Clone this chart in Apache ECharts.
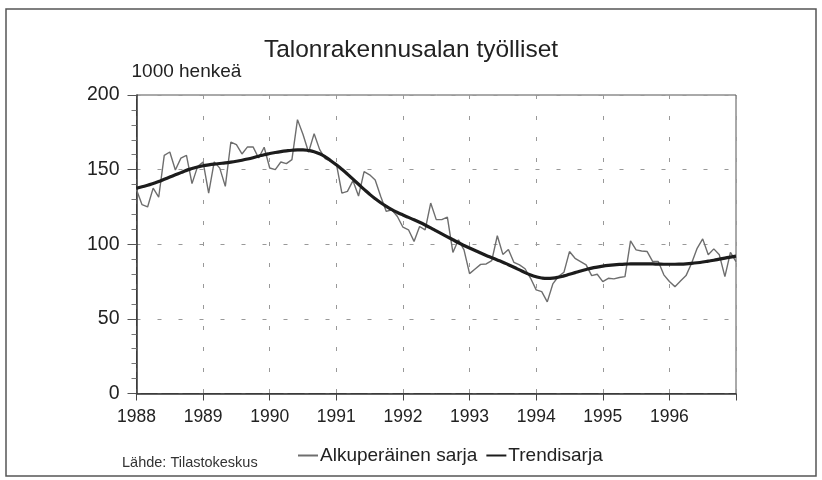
<!DOCTYPE html>
<html>
<head>
<meta charset="utf-8">
<script src="https://cdn.jsdelivr.net/npm/echarts@6/dist/echarts.min.js"></script>
<style>
  html, body { margin: 0; padding: 0; background: #fff; }
  #chart { width: 822px; height: 480px; }
</style>
</head>
<body>
<div id="chart"></div>
<script>
// kuukausisarja tammikuu 1988 - tammikuu 1997, 1000 henkeä
const startYear = 1988
const yearTicks = [1988, 1989, 1990, 1991, 1992, 1993, 1994, 1995, 1996]

const original = [
  136.5, 126.5, 125.0, 137.6, 131.5, 159.6, 161.8, 149.8, 157.7, 159.5, 140.6, 152.0,
  155.0, 134.3, 155.2, 151.0, 138.8, 168.5, 166.7, 160.5, 165.2, 165.2, 157.8, 165.0,
  151.1, 150.0, 155.1, 154.0, 156.7, 183.5, 173.5, 161.6, 174.1, 163.4, 157.4, 155.5,
  154.0, 134.3, 135.4, 142.6, 132.3, 148.7, 146.5, 143.0, 132.0, 122.0, 123.1, 118.6,
  111.4, 109.7, 101.9, 111.9, 109.7, 127.6, 116.5, 116.5, 118.2, 94.5, 103.0, 96.2,
  80.3, 83.4, 86.5, 86.8, 89.0, 105.7, 93.2, 96.5, 87.8, 86.2, 83.6, 77.2,
  69.4, 68.3, 61.4, 73.4, 78.4, 81.2, 95.1, 90.6, 88.4, 86.2, 79.0, 79.9,
  75.0, 77.2, 76.8, 77.7, 78.3, 102.2, 96.2, 95.5, 95.1, 88.4, 88.4, 79.5,
  75.0, 71.6, 75.4, 79.0, 87.3, 97.3, 103.6, 92.9, 96.9, 92.9, 78.3, 94.6,
  88.4
]

const trend = [
  137.5, 138.5, 139.5, 140.7, 142.0, 143.5, 145.0, 146.5, 148.0, 149.5, 150.7, 151.8,
  152.6, 153.2, 153.7, 154.1, 154.5, 155.0, 155.6, 156.3, 157.1, 158.0, 159.0, 160.0,
  160.8, 161.5, 162.1, 162.6, 163.0, 163.2, 163.2, 162.8, 162.0, 160.6, 158.6, 156.0,
  153.2, 150.2, 147.0, 143.6, 140.2, 136.8, 133.5, 130.5, 127.8, 125.4, 123.2, 121.3,
  119.6, 118.0, 116.4, 114.7, 112.9, 111.0, 109.0, 107.0, 105.0, 103.0, 101.0, 99.2,
  97.5, 95.8, 94.1, 92.5, 91.0, 89.5, 88.0, 86.3, 84.6, 82.8, 81.0, 79.4,
  78.2, 77.4, 77.1, 77.3, 77.9, 78.8, 79.9, 81.0, 82.1, 83.1, 84.0, 84.7,
  85.3, 85.8, 86.2, 86.5, 86.7, 86.8, 86.9, 86.9, 86.9, 86.8, 86.7, 86.6,
  86.6, 86.6, 86.7, 86.9, 87.2, 87.6, 88.1, 88.7, 89.3, 90.0, 90.7, 91.4,
  92.0
]

const toPairs = (arr) => arr.map((v, i) => [startYear + i / 12, v])

const font = "'Liberation Sans', Arial, Helvetica, sans-serif"
const chart = echarts.init(document.getElementById('chart'))

chart.setOption({
  animation: false,
  backgroundColor: '#fff',
  textStyle: { fontFamily: font, color: '#222' },
  title: [
    {
      text: 'Talonrakennusalan työlliset',
      left: 'center',
      top: 33,
      textStyle: { fontFamily: font, fontSize: 24.5, fontWeight: 'normal', color: '#222' },
    },
    {
      text: 'Lähde: Tilastokeskus',
      left: 117,
      top: 450,
      textStyle: { fontFamily: font, fontSize: 14.5, fontWeight: 'normal', color: '#333' },
    },
  ],
  legend: {
    left: 292,
    top: 441,
    itemWidth: 20,
    itemHeight: 14,
    itemGap: 8,
    itemStyle: { opacity: 0 },
    textStyle: { fontFamily: font, fontSize: 19, color: '#222', padding: [0, 0, 0, -3] },
    data: ['Alkuperäinen sarja', 'Trendisarja'],
  },
  grid: {
    left: 136.5,
    right: 86,
    top: 95,
    bottom: 86.5,
    show: true,
    borderColor: '#555',
    borderWidth: 1,
  },
  xAxis: {
    type: 'value',
    min: 1988,
    max: 1997,
    interval: 1,
    axisLine: { lineStyle: { color: '#333', width: 1.5 } },
    axisTick: { length: 7, lineStyle: { color: '#444' } },
    axisLabel: {
      fontFamily: font,
      fontSize: 17.5,
      color: '#222',
      margin: 15,
      formatter: (v) => (yearTicks.indexOf(v) >= 0 ? String(v) : ''),
    },
    splitLine: { show: true, lineStyle: { color: '#999', type: [4, 17], width: 1 } },
  },
  yAxis: {
    type: 'value',
    min: 0,
    max: 200,
    interval: 50,
    name: '1000 henkeä',
    nameLocation: 'end',
    nameGap: 14,
    nameTextStyle: { fontFamily: font, fontSize: 19, color: '#222', align: 'left', padding: [0, 0, 0, -5] },
    axisLine: { show: true, lineStyle: { color: '#333', width: 1.5 } },
    axisTick: { show: true, length: 9, lineStyle: { color: '#555' } },
    minorTick: { show: true, splitNumber: 5, length: 5, lineStyle: { color: '#777' } },
    axisLabel: { fontFamily: font, fontSize: 19.5, color: '#222', margin: 17 },
    splitLine: { show: true, lineStyle: { color: '#999', type: [4, 17], width: 1 } },
  },
  series: [
    {
      name: 'Alkuperäinen sarja',
      type: 'line',
      data: toPairs(original),
      symbol: 'none',
      color: '#6e6e6e',
      lineStyle: { color: '#6e6e6e', width: 1.4 },
      z: 2,
    },
    {
      name: 'Trendisarja',
      type: 'line',
      data: toPairs(trend),
      symbol: 'none',
      smooth: true,
      color: '#1c1c1c',
      lineStyle: { color: '#1c1c1c', width: 3.2 },
      z: 3,
    },
  ],
  graphic: [
    {
      type: 'rect',
      shape: { x: 6, y: 9, width: 810, height: 467 },
      style: { fill: null, stroke: '#555', lineWidth: 1.5 },
      silent: true,
    },
  ],
})
</script>
</body>
</html>
